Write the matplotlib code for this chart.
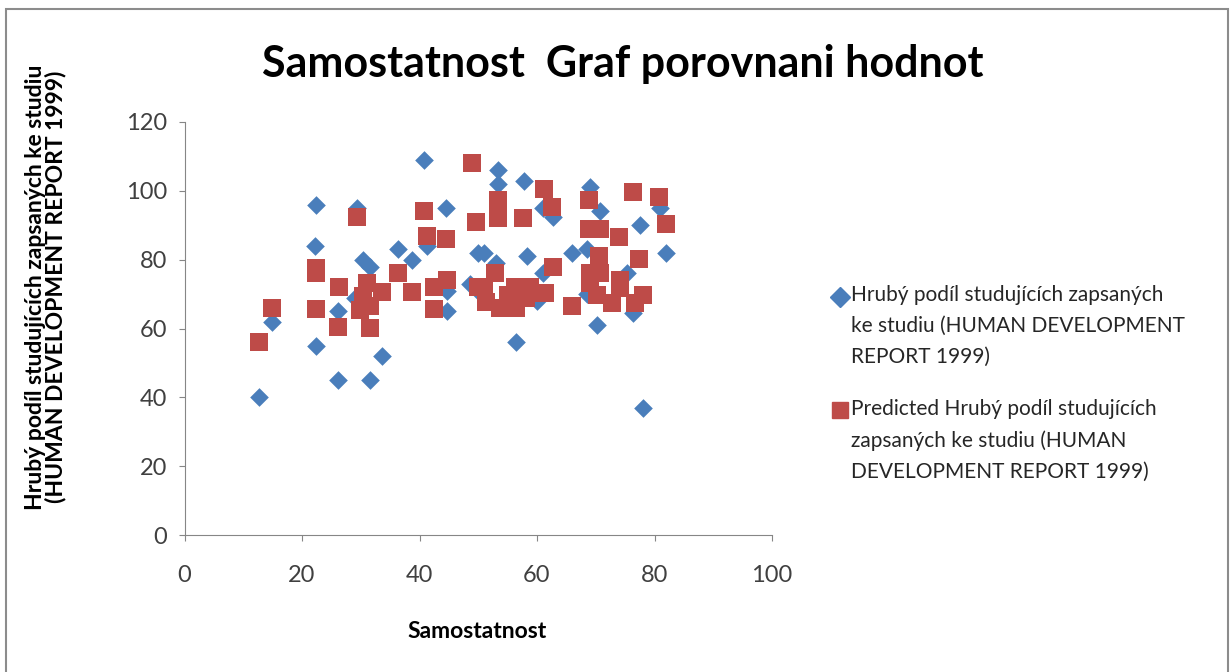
import matplotlib.pyplot as plt
from matplotlib.patches import Rectangle
from matplotlib.lines import Line2D

# Samostatnost (x) and actual gross enrolment ratio
actual_x = [12.7, 14.9, 22.4, 22.2, 22.3, 26.1, 26.2, 29.3, 29.0, 30.4, 31.6, 31.5,
            33.6, 36.4, 38.8, 40.8, 41.2, 44.5, 44.6, 44.6, 48.6, 50.0, 51.0, 53.4,
            53.4, 53.1, 57.8, 58.3, 56.4, 61.1, 62.8, 61.1, 65.9, 68.5, 69.0, 70.7,
            70.2, 68.5, 77.5, 82.0, 80.9, 75.3, 76.4, 78.1, 55.0, 60.0, 50.5]
actual_y = [40, 62, 96, 84, 55, 45, 65, 95, 69, 80, 78, 45,
            52, 83, 80, 109, 84, 95, 71, 65, 73, 82, 82, 106,
            102, 79, 103, 81, 56, 95, 92.5, 76, 82, 83, 101, 94,
            61, 70, 90, 82, 95, 76, 64.4, 37, 70, 68, 70]

# Samostatnost (x) and predicted gross enrolment ratio
pred_x = [12.6, 14.9, 22.3, 22.3, 22.3, 26.2, 26.3, 29.3, 29.9, 30.4, 31.0, 31.6,
          31.5, 33.6, 36.4, 38.8, 40.8, 41.2, 44.5, 42.4, 44.6, 42.4, 48.9, 49.7,
          50.0, 53.4, 53.4, 57.7, 61.2, 62.5, 52.9, 50.9, 51.4, 53.7, 56.5, 56.3,
          58.8, 61.4, 55.1, 58.2, 60.0, 62.8, 66.0, 68.9, 68.9, 70.7, 74.0, 70.6,
          69.0, 70.7, 70.2, 72.7, 74.1, 74.1, 76.6, 78.1, 76.4, 80.8, 82.0, 77.4,
          69.0]
pred_y = [56, 66, 77.5, 76, 65.7, 60.4, 72, 92.4, 65.4, 69.3, 73.2, 66.4,
          60.1, 70.6, 76.1, 70.7, 94, 87, 86, 72.2, 74, 65.7, 108, 91,
          72, 97.2, 92.1, 92.1, 100.5, 95.4, 76.1, 72.2, 67.8, 65.9, 65.9, 72.2,
          72.2, 70.4, 69.8, 68.8, 70.3, 77.8, 66.4, 97.2, 88.9, 88.9, 86.7, 81,
          76.1, 76.1, 69.8, 67.4, 71.7, 74, 67.4, 69.8, 99.8, 98.2, 90.4, 80.1,
          73.2]

label_actual = "Hrubý podíl studujících zapsaných\nke studiu (HUMAN DEVELOPMENT\nREPORT 1999)"
label_pred = "Predicted Hrubý podíl studujících\nzapsaných ke studiu (HUMAN\nDEVELOPMENT REPORT 1999)"

blue = '#4a7ebb'
red = '#be4b48'

plt.rcParams['font.family'] = ['Lato', 'DejaVu Sans']

W, H = 1231, 672
fig = plt.figure(figsize=(W / 100, H / 100), dpi=100)
fig.patches.append(Rectangle((6 / W, -0.1), 1222 / W, 1.1 - 9 / H,
                             transform=fig.transFigure, fill=False,
                             edgecolor='#8c8c8c', linewidth=1.5))

ax = fig.add_axes([184.5 / W, 137 / H, 587.5 / W, 413 / H])
ax.scatter(actual_x, actual_y, marker='D', s=9.5 ** 2, c=blue,
           linewidths=0, zorder=3)
ax.scatter(pred_x, pred_y, marker='s', s=13 ** 2, c=red,
           linewidths=0, zorder=3)

ax.set_xlim(0, 100)
ax.set_ylim(0, 120)
ax.set_xticks(range(0, 101, 20))
ax.set_yticks(range(0, 121, 20))
for side in ['top', 'right']:
    ax.spines[side].set_visible(False)
for side in ['left', 'bottom']:
    ax.spines[side].set_color('#868686')
ax.tick_params(colors='#868686', labelcolor='#404040', labelsize=17,
               length=4.5)
ax.tick_params(axis='x', pad=17)
ax.tick_params(axis='y', pad=8)

fig.text(477 / W, 1 - 632 / H, 'Samostatnost', ha='center', va='center',
         fontsize=16.5, fontweight='bold')
fig.text(46 / W, 1 - 287 / H,
         'Hrubý podíl studujících zapsaných ke studiu\n(HUMAN DEVELOPMENT REPORT 1999)',
         rotation=90, ha='center', va='center', multialignment='center',
         fontsize=16.5, fontweight='bold', linespacing=0.92)
fig.text(623 / W, 1 - 64 / H, 'Samostatnost  Graf porovnani hodnot',
         ha='center', va='center', fontsize=31, fontweight='bold')

# legend drawn by hand so the key sits on the first line of each label
for marker, size, color, label, top, key_y in [('D', 10, blue, label_actual, 285, 297),
                                               ('s', 11, red, label_pred, 399, 410)]:
    fig.add_artist(Line2D([840 / W], [1 - key_y / H], transform=fig.transFigure,
                          marker=marker, markersize=size, color=color,
                          linestyle='none'))
    fig.text(851 / W, 1 - top / H, label, ha='left', va='top',
             fontsize=15, color='#262626', linespacing=1.68)

fig.savefig('out.png', dpi=100)
